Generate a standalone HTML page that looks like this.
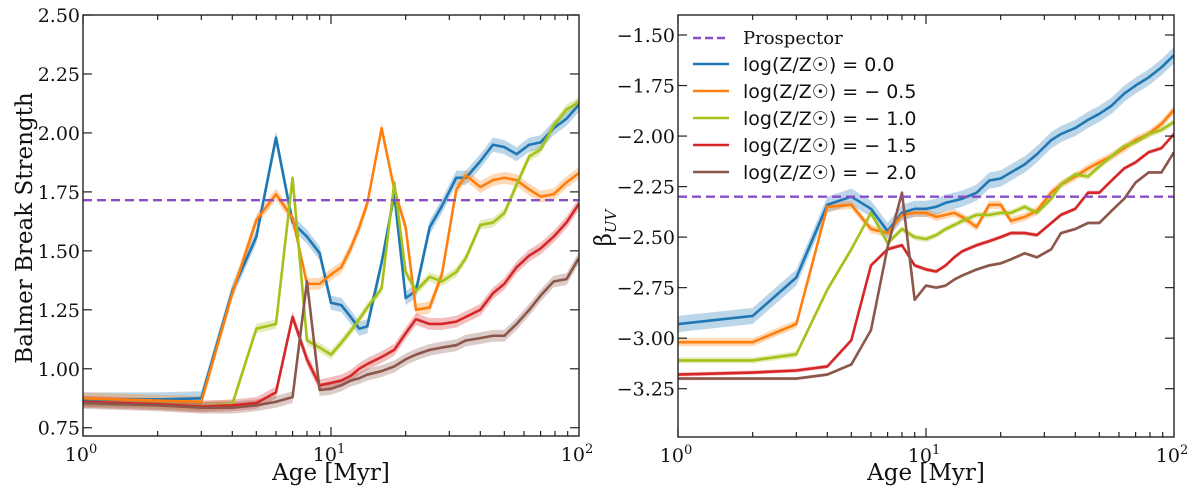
<!DOCTYPE html>
<html><head><meta charset="utf-8"><style>
body{margin:0;background:#fff;width:1200px;height:496px;overflow:hidden}
svg{display:block}
.tl{font-family:"DejaVu Serif","Liberation Serif",serif;font-size:19px;fill:#111}
.lab{font-family:"DejaVu Serif","Liberation Serif",serif;font-size:23px;fill:#111}
.leg{font-family:"DejaVu Sans","Liberation Sans",sans-serif;font-size:19px;fill:#111}
.legs{font-family:"DejaVu Serif","Liberation Serif",serif;font-size:18px;fill:#111}
</style></head><body>
<svg id="chart" width="1200" height="496"></svg>
<script>
const ages=[1,2,3,4,5,6,7,8,9,10,11,12,13,14,16,18,20,22,25,28,32,35,40,45,50,56,63,70,79,89,100];
const seriesNames=["log(Z/Z☉) = 0.0","log(Z/Z☉) = − 0.5","log(Z/Z☉) = − 1.0","log(Z/Z☉) = − 1.5","log(Z/Z☉) = − 2.0"];
const colors=["#1f77b4","#ff7f0e","#a4c21a","#d62728","#8c564b"];
const bbBlue=[0.87,0.87,0.875,1.33,1.56,1.98,1.62,1.56,1.49,1.28,1.27,1.22,1.17,1.18,1.45,1.74,1.30,1.33,1.60,1.69,1.81,1.81,1.88,1.95,1.94,1.91,1.95,1.96,2.02,2.06,2.12];
const bbOrange=[0.875,0.865,0.86,1.32,1.63,1.74,1.64,1.36,1.36,1.40,1.43,1.51,1.60,1.70,2.02,1.76,1.60,1.25,1.26,1.40,1.76,1.82,1.77,1.80,1.81,1.80,1.76,1.73,1.74,1.79,1.83];
const bbGreen=[0.86,0.85,0.84,0.85,1.17,1.19,1.81,1.12,1.09,1.06,1.11,1.16,1.21,1.26,1.34,1.79,1.41,1.33,1.39,1.37,1.41,1.47,1.61,1.62,1.66,1.78,1.90,1.93,2.03,2.10,2.13];
const bbRed=[0.86,0.85,0.84,0.845,0.855,0.90,1.22,1.04,0.93,0.94,0.95,0.97,1.00,1.02,1.05,1.08,1.15,1.21,1.19,1.19,1.20,1.22,1.25,1.32,1.36,1.43,1.48,1.51,1.56,1.62,1.70];
const bbBrown=[0.855,0.845,0.835,0.835,0.845,0.86,0.88,1.37,0.91,0.915,0.93,0.95,0.96,0.975,0.99,1.01,1.04,1.06,1.08,1.09,1.10,1.12,1.13,1.14,1.14,1.19,1.25,1.31,1.37,1.38,1.47];
const buBlue=[-2.93,-2.89,-2.70,-2.34,-2.30,-2.36,-2.47,-2.38,-2.36,-2.36,-2.35,-2.33,-2.32,-2.31,-2.28,-2.22,-2.21,-2.18,-2.14,-2.09,-2.02,-1.99,-1.96,-1.92,-1.89,-1.85,-1.79,-1.75,-1.71,-1.66,-1.60];
const buOrange=[-3.02,-3.02,-2.93,-2.35,-2.34,-2.46,-2.48,-2.39,-2.38,-2.38,-2.40,-2.39,-2.38,-2.40,-2.45,-2.34,-2.34,-2.42,-2.40,-2.37,-2.28,-2.24,-2.20,-2.16,-2.13,-2.10,-2.06,-2.02,-1.99,-1.94,-1.87];
const buGreen=[-3.11,-3.11,-3.08,-2.76,-2.56,-2.38,-2.53,-2.46,-2.50,-2.51,-2.49,-2.46,-2.44,-2.42,-2.39,-2.39,-2.38,-2.38,-2.35,-2.38,-2.31,-2.24,-2.19,-2.20,-2.15,-2.10,-2.05,-2.03,-1.99,-1.97,-1.93];
const buRed=[-3.18,-3.17,-3.16,-3.14,-3.01,-2.64,-2.56,-2.54,-2.64,-2.66,-2.67,-2.64,-2.60,-2.57,-2.54,-2.52,-2.50,-2.48,-2.48,-2.49,-2.43,-2.39,-2.36,-2.28,-2.28,-2.22,-2.16,-2.13,-2.08,-2.06,-1.99];
const buBrown=[-3.20,-3.20,-3.20,-3.18,-3.13,-2.96,-2.55,-2.28,-2.81,-2.74,-2.75,-2.74,-2.71,-2.69,-2.66,-2.64,-2.63,-2.61,-2.58,-2.60,-2.56,-2.48,-2.46,-2.43,-2.43,-2.37,-2.31,-2.23,-2.18,-2.18,-2.08];
const bbBands=[0.03,0.025,0.02,0.025,0.025];
const buBands=[0.04,0.02,0.015,0.01,0.008];
const bbTicks=[0.75,1.00,1.25,1.50,1.75,2.00,2.25,2.50];
const buTicks=[-3.25,-3.00,-2.75,-2.50,-2.25,-2.00,-1.75,-1.50];
const prospectorBB=1.715, prospectorBU=-2.30;

const NS="http://www.w3.org/2000/svg";
const svg=document.getElementById('chart');
function mk(tag,attrs,parent){const e=document.createElementNS(NS,tag);for(const k in attrs)e.setAttribute(k,attrs[k]);(parent||svg).appendChild(e);return e;}

function panel(id,L,R,T,B,ymin,ymax,ticks,series,bands,prosp){
  const g=mk('g',{});
  
  
  const sx=a=>L+(Math.log10(a)/2)*(R-L);
  const sy=v=>B-(v-ymin)/(ymax-ymin)*(B-T);
  const cp=mk('clipPath',{id:id+'clip'},g);mk('rect',{x:L,y:T,width:R-L,height:B-T},cp);
  const pg=mk('g',{'clip-path':'url(#'+id+'clip)'},g);
  series.forEach((s,i)=>{
    let up=ages.map((a,j)=>sx(a)+','+sy(s[j]+bands[i]));
    let dn=ages.map((a,j)=>sx(a)+','+sy(s[j]-bands[i])).reverse();
    const band=mk('polygon',{points:up.concat(dn).join(' '),fill:colors[i],'fill-opacity':0.3,stroke:'none'},pg);
    
    
  });
  series.forEach((s,i)=>{
    const ln=mk('polyline',{points:ages.map((a,j)=>sx(a)+','+sy(s[j])).join(' '),fill:'none',stroke:colors[i],'stroke-width':2.6,'stroke-linejoin':'round'},pg);
    
    
  });
  const pl=mk('line',{x1:L,x2:R,y1:sy(prosp),y2:sy(prosp),stroke:'#8a4fc7','stroke-width':2.4,'stroke-dasharray':'9,5'},pg);
  
  
  for(let d=0;d<2;d++)for(let m=1;m<10;m++){
    const a=Math.pow(10,d)*m;const x=sx(a);const len=m==1?9:5;
    mk('line',{x1:x,x2:x,y1:B,y2:B-len,stroke:'#222','stroke-width':1.2},g);
    mk('line',{x1:x,x2:x,y1:T,y2:T+len,stroke:'#222','stroke-width':1.2},g);
  }
  [0,1,2].forEach(p=>{
    const t=mk('text',{x:sx(Math.pow(10,p))-2,y:B+25,class:'tl','text-anchor':'middle'},g);
    t.textContent='10';
    const sp=mk('tspan',{dy:-8,'font-size':13},t);sp.textContent=p;
    
    
  });
  ticks.forEach(v=>{
    const y=sy(v);
    mk('line',{x1:L,x2:L+9,y1:y,y2:y,stroke:'#222','stroke-width':1.2},g);
    mk('line',{x1:R,x2:R-9,y1:y,y2:y,stroke:'#222','stroke-width':1.2},g);
    const t=mk('text',{x:L-3,y:y+7,'text-anchor':'end',class:'tl'},g);
    t.textContent=(v<0?'\u2212':'')+Math.abs(v).toFixed(2);
    
    
  });
  mk('rect',{x:L,y:T,width:R-L,height:B-T,fill:'none',stroke:'#222','stroke-width':1.4},g);
  const xl=mk('text',{x:(L+R)/2,y:480,'text-anchor':'middle',class:'lab'},g);
  xl.textContent='Age [Myr]';
  
  
}
panel('balmer',83,579,15,436,0.715,2.5,bbTicks,[bbBlue,bbOrange,bbGreen,bbRed,bbBrown],bbBands,prospectorBB);
const yl1=mk('text',{x:0,y:0,transform:'translate(32,228) rotate(-90)','text-anchor':'middle',class:'lab','font-size':'24'});
yl1.textContent='Balmer Break Strength';


panel('beta',678,1174,15,437,-3.489,-1.401,buTicks,[buBlue,buOrange,buGreen,buRed,buBrown],buBands,prospectorBU);
const yl2=mk('text',{x:0,y:0,transform:'translate(611,228) rotate(-90)','text-anchor':'middle',class:'lab'});
yl2.textContent='β';
const sub=mk('tspan',{dy:5,'font-size':15,'font-style':'italic'},yl2);sub.textContent='UV';


const lg=mk('g',{});


const ly=[38,64,91,118,145,172];
mk('line',{x1:693,x2:729,y1:ly[0],y2:ly[0],stroke:'#8a4fc7','stroke-width':2.4,'stroke-dasharray':'8,4'},lg);
const t0=mk('text',{x:743,y:ly[0]+6,class:'legs'},lg);t0.textContent='Prospector';


seriesNames.forEach((n,i)=>{
  mk('line',{x1:693,x2:729,y1:ly[i+1],y2:ly[i+1],stroke:colors[i],'stroke-width':2.6},lg);
  const t=mk('text',{x:743,y:ly[i+1]+7,class:'leg'},lg);t.textContent=n;
  
  
});
</script>
</body></html>
